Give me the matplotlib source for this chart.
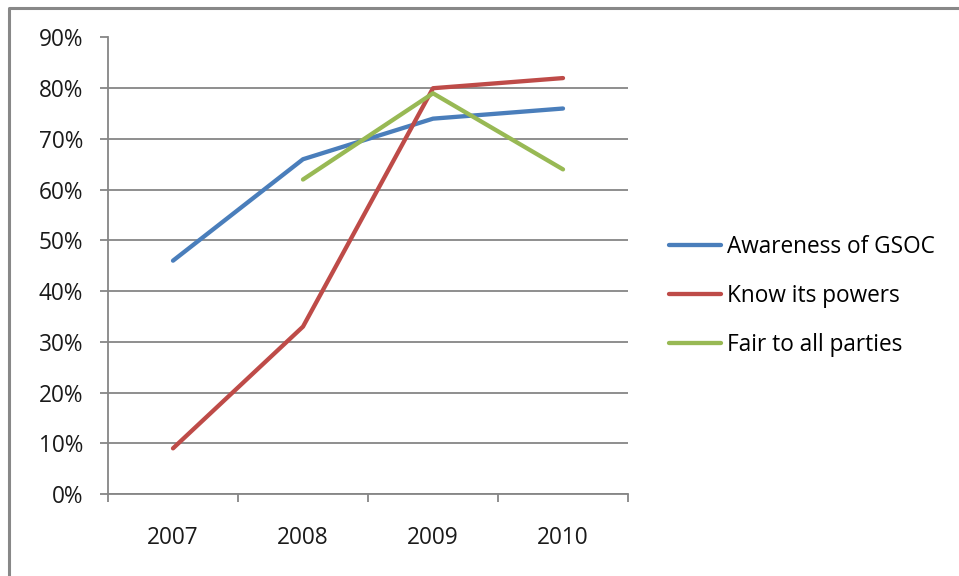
import matplotlib
matplotlib.use("Agg")
import matplotlib.pyplot as plt
from matplotlib.lines import Line2D

years = ["2007", "2008", "2009", "2010"]
awareness = [46, 66, 74, 76]
know_powers = [9, 33, 80, 82]
fair_to_all = [None, 62, 79, 64]
series_names = ["Awareness of GSOC", "Know its powers", "Fair to all parties"]
colors = ["#4A7EBB", "#BE4B48", "#98B954"]
y_ticks = list(range(0, 100, 10))

W, H = 959, 576
fig = plt.figure(figsize=(W / 100, H / 100), dpi=100)
plt.rcParams["font.family"] = ["Open Sans", "DejaVu Sans"]
FS = 16.3
TXT = "#1a1a1a"

ax = fig.add_axes([108 / W, (H - 494) / H, 520 / W, (494 - 37.5) / H])

x = list(range(len(years)))
for vals, name, c in zip([awareness, know_powers, fair_to_all], series_names, colors):
    pts = [(xi, v) for xi, v in zip(x, vals) if v is not None]
    ax.plot([p[0] for p in pts], [p[1] for p in pts], color=c, lw=3.1,
            solid_capstyle="round", solid_joinstyle="round", label=name)

ax.set_xlim(-0.5, len(years) - 0.5)
ax.set_ylim(0, 90)
ax.set_yticks(y_ticks)
ax.set_yticklabels([f"{t}%" for t in y_ticks])
ax.set_xticks(x)
ax.set_xticklabels(years)
ax.set_xticks([i - 0.5 for i in range(len(years) + 1)], minor=True)

grid_c = "#868686"
ax.yaxis.grid(True, color=grid_c, lw=1.3)
ax.set_axisbelow(True)
for s in ["top", "right"]:
    ax.spines[s].set_visible(False)
for s in ["left", "bottom"]:
    ax.spines[s].set_color(grid_c)
    ax.spines[s].set_linewidth(1.3)

ax.tick_params(axis="y", length=5.8, width=1.3, color=grid_c, pad=12,
               labelsize=FS, labelcolor=TXT)
ax.tick_params(axis="x", which="major", length=0, pad=23,
               labelsize=FS, labelcolor=TXT)
ax.tick_params(axis="x", which="minor", length=5.8, width=1.3, color=grid_c)

handles = [Line2D([], [], color=c, lw=3.1, solid_capstyle="round") for c in colors]
fig.legend(handles, series_names, loc="upper left",
           bbox_to_anchor=(669 / W, 1 - 235 / H), frameon=False,
           fontsize=FS, handlelength=2.3, handletextpad=0.25,
           labelspacing=1.11, borderpad=0, borderaxespad=0)

# outer chart frame (left and top edges)
fig.add_artist(Line2D([8.5 / W, 8.5 / W, 1], [0, 1 - 7.5 / H, 1 - 7.5 / H],
                      transform=fig.transFigure, color="#888888", lw=2.2))

fig.savefig("out.png", dpi=100)
